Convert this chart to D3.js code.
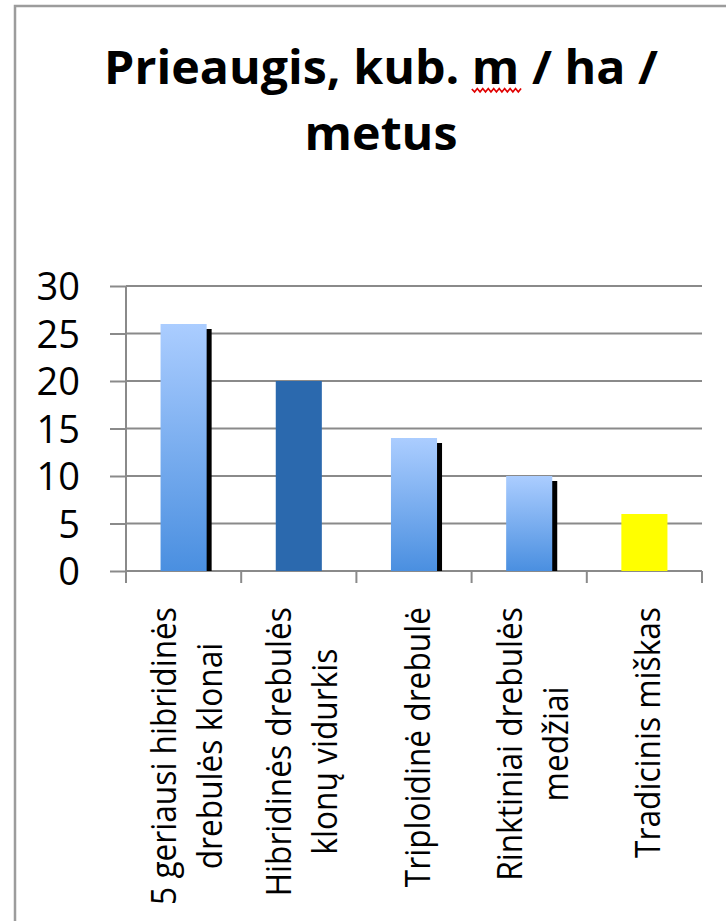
<!DOCTYPE html>
<html>
<head>
<meta charset="utf-8">
<script src="https://cdn.jsdelivr.net/npm/d3@7"></script>
<style>
  body { margin: 0; background: #fff; }
  svg { display: block; }
</style>
</head>
<body>
<svg id="chart" width="726" height="921"></svg>
<script>
// chart data
var titleLines = ["Prieaugis, kub. m / ha /", "metus"];
var categories = [
    ["5 geriausi hibridinės", "drebulės klonai"],
    ["Hibridinės drebulės", "klonų vidurkis"],
    ["Triploidinė drebulė"],
    ["Rinktiniai drebulės", "medžiai"],
    ["Tradicinis miškas"]
];
var values = [26, 20, 14, 10, 6];
var yTicks = [0, 5, 10, 15, 20, 25, 30];

// look of each bar (kept apart from the data)
var barFill = ["url(#lightBlue)", "#2b69ae", "url(#lightBlue)", "url(#lightBlue)", "#ffff00"];
var hasShadow = [true, false, true, true, false];

var svg = d3.select("#chart");
var gridColor = "#8a8a8a";
var font = "'Open Sans', 'Noto Sans', sans-serif";

// frame of the picture
svg.append("path")
    .attr("d", "M15,921 V6 H726")
    .attr("fill", "none")
    .attr("stroke", "#9c9c9c")
    .attr("stroke-width", 2.5);

var defs = svg.append("defs");
var grad = defs.append("linearGradient")
    .attr("id", "lightBlue")
    .attr("x1", 0).attr("y1", 0).attr("x2", 0).attr("y2", 1);
grad.append("stop").attr("offset", "0%").attr("stop-color", "#abcdff");
grad.append("stop").attr("offset", "100%").attr("stop-color", "#4a8fe0");

// title, squeezed sideways to the narrow look of the original
var titleSize = 46;
var title = svg.append("g").attr("font-family", font)
    .attr("font-weight", 700).attr("fill", "#000").attr("text-anchor", "middle");
var t1 = title.append("text").attr("y", 84).attr("font-size", titleSize).text(titleLines[0]);
var squeeze = 554 / t1.node().getComputedTextLength();
title.attr("transform", "translate(381,0) scale(" + squeeze + ",1)");
title.append("text").attr("y", 150).attr("font-size", titleSize).text(titleLines[1]);

// red spell-check squiggle under the "m"
var mIdx = titleLines[0].indexOf(" m ") + 1;
var mStart = t1.node().getStartPositionOfChar(mIdx).x;
var mLen = t1.node().getSubStringLength(mIdx, 1);
var zig = "M" + mStart + ",89";
for (var k = 0, px = mStart; px < mStart + mLen; k++) {
    px += 2.6;
    zig += " L" + px + "," + (k % 2 ? 88.5 : 92);
}
title.append("path").attr("d", zig).attr("fill", "none")
    .attr("stroke", "#e00000").attr("stroke-width", 1.6);

// scales
var x = d3.scaleBand()
    .domain(d3.range(categories.length))
    .range([126, 702])
    .paddingInner(0.6)
    .paddingOuter(0.3);
var y = d3.scaleLinear().domain([0, 30]).range([571, 286]);

// gridlines
svg.append("g").selectAll("line")
    .data(yTicks)
    .enter().append("line")
    .attr("x1", 126).attr("x2", 702)
    .attr("y1", function (d) { return y(d); })
    .attr("y2", function (d) { return y(d); })
    .attr("stroke", gridColor)
    .attr("stroke-width", 2);

// y axis with labels
var yAxis = svg.append("g")
    .attr("transform", "translate(126,0)")
    .call(d3.axisLeft(y).tickValues(yTicks).tickSizeInner(16).tickSizeOuter(0).tickPadding(30));
yAxis.select(".domain").remove();
yAxis.selectAll(".tick line").attr("stroke", gridColor).attr("stroke-width", 2);
yAxis.selectAll(".tick text")
    .attr("font-family", font)
    .attr("font-size", 38)
    .attr("fill", "#000")
    .attr("dy", "0.36em");

svg.append("line")
    .attr("x1", 126).attr("x2", 126)
    .attr("y1", y(30)).attr("y2", y(0) + 12)
    .attr("stroke", gridColor).attr("stroke-width", 2);

// x axis ticks at the category borders
var step = x.step();
svg.append("g").selectAll("line")
    .data(d3.range(categories.length + 1))
    .enter().append("line")
    .attr("x1", function (d) { return 126 + d * step; })
    .attr("x2", function (d) { return 126 + d * step; })
    .attr("y1", y(0)).attr("y2", y(0) + 12)
    .attr("stroke", gridColor).attr("stroke-width", 2);

// bars, some with a dark shadow on the right
var barData = values.map(function (v, i) { return { i: i, v: v }; });
var bars = svg.append("g");
bars.selectAll(".shadow")
    .data(barData.filter(function (d) { return hasShadow[d.i]; }))
    .enter().append("rect")
    .attr("class", "shadow")
    .attr("x", function (d) { return x(d.i) + 5; })
    .attr("y", function (d) { return y(d.v) + 5; })
    .attr("width", x.bandwidth())
    .attr("height", function (d) { return y(0) - y(d.v) - 5; })
    .attr("fill", "#000");

bars.selectAll(".bar")
    .data(barData)
    .enter().append("rect")
    .attr("class", "bar")
    .attr("x", function (d) { return x(d.i); })
    .attr("y", function (d) { return y(d.v); })
    .attr("width", x.bandwidth())
    .attr("height", function (d) { return y(0) - y(d.v); })
    .attr("fill", function (d) { return barFill[d.i]; });

// category labels, rotated, top of longest line at the same height
var lineGap = 46;
var labels = svg.append("g")
    .attr("font-family", font)
    .attr("font-size", 34)
    .attr("fill", "#000");

var labelSqueeze = 1;
categories.forEach(function (lines, i) {
    var cx = x(i) + x.bandwidth() / 2;
    var g = labels.append("g").attr("class", "cat");
    g.datum(cx);
    var texts = lines.map(function (s, j) {
        return g.append("text")
            .attr("y", 15.5 + (j - (lines.length - 1) / 2) * lineGap)
            .text(s);
    });
    var longest = d3.max(texts, function (t) { return t.node().getComputedTextLength(); });
    if (i === 0) labelSqueeze = 298 / longest;
    texts.forEach(function (t) {
        t.attr("x", -longest / 2).attr("text-anchor", "middle");
    });
});
labels.selectAll(".cat").attr("transform", function (cx) {
    return "translate(" + cx + ",607) rotate(-90) scale(" + labelSqueeze + ",1)";
});
</script>
</body>
</html>
